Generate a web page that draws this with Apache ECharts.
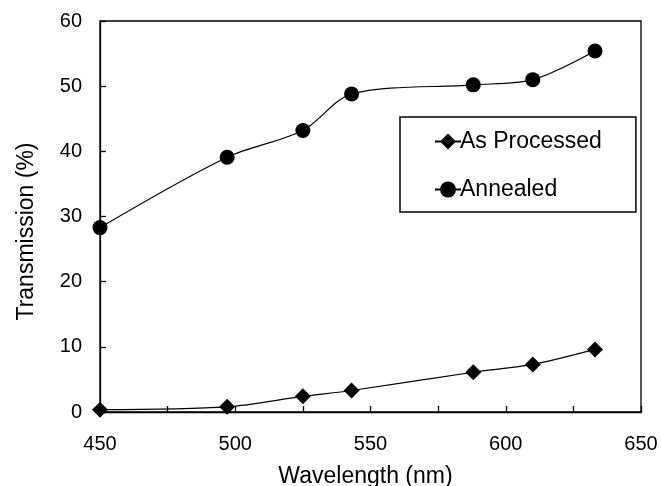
<!DOCTYPE html>
<html>
<head>
<meta charset="utf-8">
<script src="https://cdn.jsdelivr.net/npm/echarts@6/dist/echarts.min.js"></script>
<style>
  html, body { margin: 0; padding: 0; background: #fff; }
  #chart { width: 661px; height: 486px; }
</style>
</head>
<body>
<div id="chart"></div>
<script>
// wavelengths (nm) and transmission (%)
var wavelengths = [450, 497, 525, 543, 588, 610, 633];
var asProcessed = [0.35, 0.8, 2.4, 3.3, 6.1, 7.3, 9.6];
var annealed = [28.3, 39.1, 43.2, 48.8, 50.2, 51.0, 55.4];

function pairs(xs, ys) {
  return xs.map(function (x, i) { return [x, ys[i]]; });
}

var font = "'Liberation Sans', Arial, sans-serif";
var myChart = echarts.init(document.getElementById("chart"));

var option = {
  animation: false,
  backgroundColor: "#fff",
  textStyle: { fontFamily: font, color: "#000" },
  grid: {
    left: 100, right: 20, top: 21, bottom: 74,
    outerBoundsMode: "none",
    show: true, borderColor: "#000", borderWidth: 1.3
  },
  legend: {
    orient: "vertical",
    left: 400, top: 117,
    backgroundColor: "#fff",
    borderColor: "#000",
    borderWidth: 1.5,
    borderRadius: 0,
    padding: [13, 34, 11, 34],
    itemGap: 25,
    itemWidth: 26,
    itemHeight: 20,
    textStyle: { fontFamily: font, fontSize: 23, color: "#000", padding: [0, 0, 0, -6] },
    data: ["As Processed", "Annealed"]
  },
  xAxis: {
    type: "value",
    min: 450, max: 650, interval: 25,
    name: "Wavelength (nm)",
    nameLocation: "middle",
    nameGap: 53,
    nameTextStyle: { fontFamily: font, fontSize: 23, color: "#000", padding: [0, 10, 0, 0] },
    axisLine: { lineStyle: { color: "#000", width: 1.3 } },
    axisTick: { inside: true, length: 6, lineStyle: { color: "#000", width: 1.3 } },
    axisLabel: {
      fontFamily: font, fontSize: 20, color: "#000", margin: 22,
      formatter: function (v) { return v % 50 === 0 ? String(v) : ""; }
    },
    splitLine: { show: false }
  },
  yAxis: {
    type: "value",
    min: 0, max: 60, interval: 10,
    name: "Transmission (%)",
    nameLocation: "middle",
    nameGap: 62,
    nameTextStyle: { fontFamily: font, fontSize: 23, color: "#000", padding: [0, 30, 0, 0] },
    axisLine: { show: true, lineStyle: { color: "#000", width: 1.3 } },
    axisTick: { show: true, inside: true, length: 6, lineStyle: { color: "#000", width: 1.3 } },
    axisLabel: { fontFamily: font, fontSize: 20, color: "#000", margin: 18, padding: [4, 0, 0, 0] },
    splitLine: { show: false }
  },
  series: [
    {
      name: "As Processed",
      type: "line",
      data: pairs(wavelengths, asProcessed),
      smooth: 0.3,
      symbol: "diamond",
      symbolSize: 16,
      itemStyle: { color: "#000" },
      lineStyle: { color: "#000", width: 1.2 }
    },
    {
      name: "Annealed",
      type: "line",
      data: pairs(wavelengths, annealed),
      smooth: 0.3,
      symbol: "circle",
      symbolSize: 15,
      itemStyle: { color: "#000" },
      lineStyle: { color: "#000", width: 1.2 }
    }
  ]
};

myChart.setOption(option);
</script>
</body>
</html>
